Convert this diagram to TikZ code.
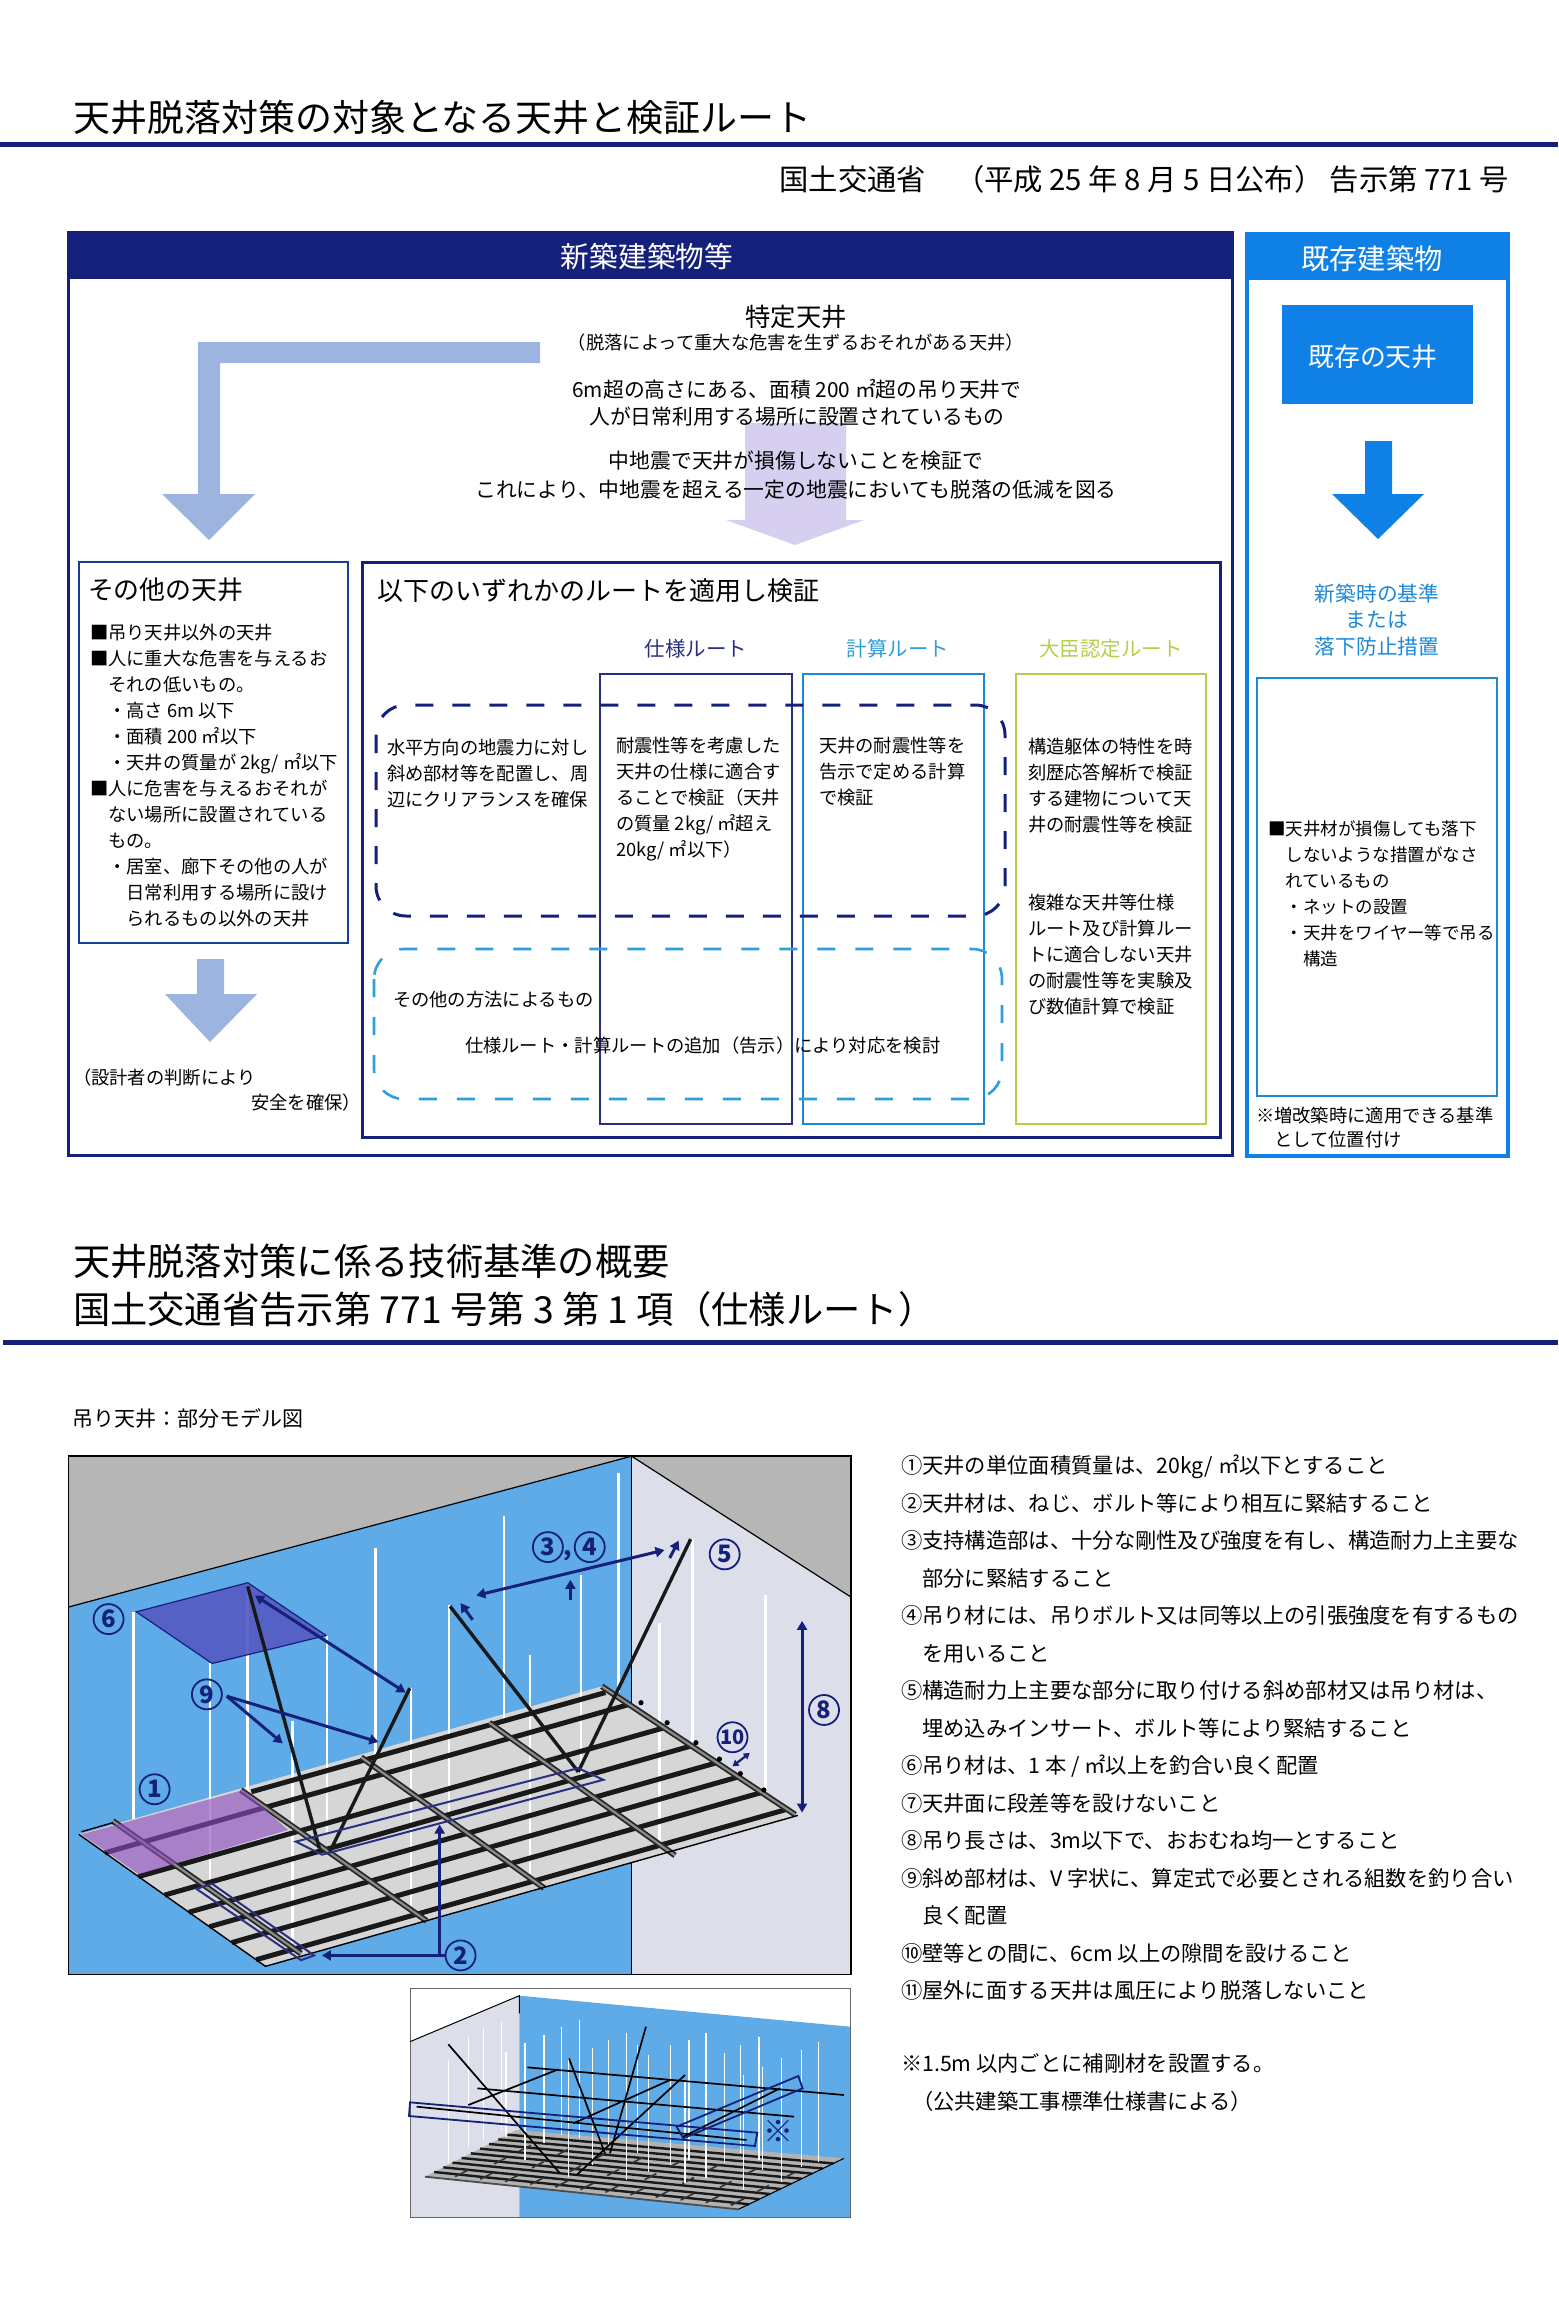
\documentclass[tikz,border=0pt]{standalone}
\usepackage{fontspec}
\setmainfont{Noto Sans CJK JP}
\usetikzlibrary{arrows.meta,calc}
\definecolor{navy}{HTML}{14207A}
\definecolor{rnavy}{HTML}{2A2F82}
\definecolor{brightblue}{HTML}{0F80E6}
\definecolor{rblue}{HTML}{1E88D8}
\definecolor{rcyan}{HTML}{2E9FD8}
\definecolor{rgreen}{HTML}{B4D04A}
\definecolor{arrowblue}{HTML}{9DB4E0}
\definecolor{arrowpurple}{HTML}{D7CFEF}
\definecolor{ceil}{HTML}{B6B6B6}
\definecolor{wallblue}{HTML}{5FABE8}
\definecolor{walllight}{HTML}{DCDEEA}
\definecolor{panel}{HTML}{D6D6D6}
\newcommand{\fs}[2]{\fontsize{#1}{#2}\selectfont}
\tikzset{
  blk/.style={inner sep=0pt,outer sep=0pt,anchor=north west,align=left},
  ctr/.style={inner sep=0pt,outer sep=0pt,anchor=center,align=center},
  rt/.style={inner sep=0pt,outer sep=0pt,anchor=east,align=right},
  lt/.style={inner sep=0pt,outer sep=0pt,anchor=west,align=left},
  body/.style={font=\fs{18.3}{26}},
  listt/.style={font=\fs{21.3}{37.5}},
  rule/.style={draw=navy,line width=5pt},
  hang/.style={draw=white,line width=2.6pt},
  hangs/.style={draw=white,line width=1.2pt},
  rbar/.style={draw=black!90,line width=5pt},
  chan/.style={draw=black!85,line width=1.8pt,double=black!45,double distance=2.2pt},
  brace/.style={draw=black!90,line width=3.4pt},
  na/.style={draw=navy,line width=3pt,-{Triangle[length=9pt,width=10pt]}},
  nab/.style={draw=navy,line width=3pt,{Triangle[length=9pt,width=10pt]}-{Triangle[length=9pt,width=10pt]}},
  cnum/.style={circle,draw=navy,line width=1.8pt,text=navy,font=\fs{24}{24}\bfseries,inner sep=0pt,minimum size=30pt},
}
\begin{document}
\begin{tikzpicture}[x=1pt,y=-1pt]
\useasboundingbox (0,0) rectangle (1558,2306);
\fill[white] (0,0) rectangle (1558,2306);

% ---------- titles
\node[lt,font=\fs{37}{37}] (t1) at (73,118) {天井脱落対策の対象となる天井と検証ルート};
\draw[rule] (0,145) -- (1558,145);
\node[rt,font=\fs{29.3}{29}] (t1b) at (1509,179) {国土交通省　（平成 25 年 8 月 5 日公布） 告示第 771 号};

% ---------- left main box
\draw[navy,line width=3pt] (68,233) rectangle (1232,1155);
\fill[navy] (67,233) rectangle (1233,279);
\node[ctr,text=white,font=\fs{28.7}{29}] (h1) at (647,257) {新築建築物等};

% arrows behind text
\fill[arrowpurple] (745,423) -- (846,423) -- (846,520) -- (864,520) -- (795,545) -- (726,520) -- (745,520) -- cycle;
\fill[arrowblue] (540,342) -- (198,342) -- (198,494) -- (162,494) -- (209,540) -- (255,494) -- (220,494) -- (220,363) -- (540,363) -- cycle;

\node[ctr,font=\fs{25.4}{26}] (tk) at (796,317) {特定天井};
\node[ctr,font=\fs{18.3}{18}] (tk2) at (796,343) {（脱落によって重大な危害を生ずるおそれがある天井）};
\node[ctr,font=\fs{20.8}{27}] (tk3) at (797,403) {6m超の高さにある、面積 200 ㎡超の吊り天井で\\人が日常利用する場所に設置されているもの};
\node[ctr,font=\fs{20.8}{29}] (tk4) at (796,475) {中地震で天井が損傷しないことを検証で\\これにより、中地震を超える一定の地震においても脱落の低減を図る};

% ---------- other ceilings box
\draw[draw=navy!70!rblue,line width=2.6pt] (79,562) rectangle (348,943);
\node[lt,font=\fs{25.9}{26}] (o0) at (88,590) {その他の天井};
\node[blk,body] (o1) at (90,624) {■吊り天井以外の天井\\■人に重大な危害を与えるお\\　それの低いもの。\\　・高さ 6m 以下\\　・面積 200 ㎡以下\\　・天井の質量が 2kg/ ㎡以下\\■人に危害を与えるおそれが\\　ない場所に設置されている\\　もの。\\　・居室、廊下その他の人が\\　　日常利用する場所に設け\\　　られるもの以外の天井};
\fill[arrowblue] (197,959) -- (224,959) -- (224,994) -- (257,994) -- (210,1042) -- (165,994) -- (197,994) -- cycle;
\node[lt,font=\fs{18.3}{18}] (o2) at (73,1078) {（設計者の判断により};
\node[rt,font=\fs{18.3}{18}] (o3) at (361,1103) {安全を確保）};

% ---------- routes box
\draw[draw=navy,line width=3pt] (362,562) rectangle (1220,1137);
\node[lt,font=\fs{26}{26}] (r0) at (377,591) {以下のいずれかのルートを適用し検証};
\node[ctr,text=rnavy,font=\fs{20.5}{21}] (r1) at (696,649) {仕様ルート};
\node[ctr,text=rcyan,font=\fs{20.5}{21}] (r2) at (898,649) {計算ルート};
\node[ctr,text=rgreen,font=\fs{20.5}{21}] (r3) at (1111,649) {大臣認定ルート};
\draw[rnavy,line width=2.8pt] (600,674) rectangle (792,1124);
\draw[rblue,line width=2.8pt] (803,674) rectangle (984,1124);
\draw[rgreen,line width=2.8pt] (1016,674) rectangle (1206,1124);
\draw[navy,line width=3pt,rounded corners=30pt,dash pattern=on 18pt off 19pt] (376,705) rectangle (1005,916);
\draw[rcyan,line width=2.6pt,rounded corners=30pt,dash pattern=on 18pt off 20pt] (374,949) rectangle (1002,1099);
\node[blk,body] (d1) at (387,739) {水平方向の地震力に対し\\斜め部材等を配置し、周\\辺にクリアランスを確保};
\node[blk,body] (d2) at (616,737) {耐震性等を考慮した\\天井の仕様に適合す\\ることで検証（天井\\の質量 2kg/ ㎡超え\\20kg/ ㎡以下）};
\node[blk,body] (d3) at (819,737) {天井の耐震性等を\\告示で定める計算\\で検証};
\node[blk,body] (d4) at (1028,738) {構造躯体の特性を時\\刻歴応答解析で検証\\する建物について天\\井の耐震性等を検証};
\node[blk,body] (d5) at (1028,894) {複雑な天井等仕様\\ルート及び計算ルー\\トに適合しない天井\\の耐震性等を実験及\\び数値計算で検証};
\node[lt,font=\fs{18.3}{18}] (d6) at (393,1000) {その他の方法によるもの};
\node[lt,font=\fs{18.3}{18}] (d7) at (465,1046) {仕様ルート・計算ルートの追加（告示）により対応を検討};

% ---------- existing buildings
\draw[brightblue,line width=3.4pt] (1247,234) rectangle (1508,1156);
\fill[brightblue] (1246,233) rectangle (1509,280);
\node[ctr,text=white,font=\fs{28.2}{29}] (h2) at (1372,259) {既存建築物};
\fill[brightblue] (1282,305) rectangle (1473,404);
\node[ctr,text=white,font=\fs{25.9}{26}] (ex) at (1373,357) {既存の天井};
\fill[brightblue] (1365,441) -- (1392,441) -- (1392,494) -- (1424,494) -- (1378,539) -- (1332,494) -- (1365,494) -- cycle;
\node[ctr,text=rblue,font=\fs{20.7}{26.5}] (ex2) at (1377,620) {新築時の基準\\または\\落下防止措置};
\draw[draw=rblue,line width=2.8pt] (1257,678) rectangle (1497,1096);
\node[blk,font=\fs{17.5}{26}] (ex3) at (1268,821) {■天井材が損傷しても落下\\　しないような措置がなさ\\　れているもの\\　・ネットの設置\\　・天井をワイヤー等で吊る\\　　構造};
\node[blk,font=\fs{18.3}{24}] (ex4) at (1256,1107) {※増改築時に適用できる基準\\　として位置付け};

% ---------- second section
\node[lt,font=\fs{37.3}{37}] (t2) at (73,1261) {天井脱落対策に係る技術基準の概要};
\node[lt,font=\fs{37.3}{37}] (t3) at (73,1309) {国土交通省告示第 771 号第 3 第 1 項（仕様ルート）};
\draw[rule] (3,1342) -- (1558,1342);
\node[lt,font=\fs{21}{21}] (t4) at (72,1418) {吊り天井：部分モデル図};

\node[blk,listt] (list) at (901,1455) {①天井の単位面積質量は、20kg/ ㎡以下とすること\\②天井材は、ねじ、ボルト等により相互に緊結すること\\③支持構造部は、十分な剛性及び強度を有し、構造耐力上主要な\\　部分に緊結すること\\④吊り材には、吊りボルト又は同等以上の引張強度を有するもの\\　を用いること\\⑤構造耐力上主要な部分に取り付ける斜め部材又は吊り材は、\\　埋め込みインサート、ボルト等により緊結すること\\⑥吊り材は、1 本 / ㎡以上を釣合い良く配置\\⑦天井面に段差等を設けないこと\\⑧吊り長さは、3m以下で、おおむね均一とすること\\⑨斜め部材は、V 字状に、算定式で必要とされる組数を釣り合い\\　良く配置\\⑩壁等との間に、6cm 以上の隙間を設けること\\⑪屋外に面する天井は風圧により脱落しないこと};
\node[blk,listt] (note) at (901,2054) {※1.5m 以内ごとに補剛材を設置する。\\\hspace*{11pt}（公共建築工事標準仕様書による）};

% ---------- main figure (coordinates of a crop)
\begin{scope}[shift={(50,1430)},x=0.523pt,y=-0.3636pt]
  \coordinate (L) at (55,1112); \coordinate (T) at (1055,705);
  \coordinate (R) at (1430,1060); \coordinate (B) at (412,1475);
  \fill[ceil] (35,72) rectangle (1532,1497);
  \fill[wallblue] (35,487) -- (1112,72) -- (1112,1497) -- (35,1497) -- cycle;
  \fill[walllight] (1112,72) -- (1532,460) -- (1532,1497) -- (1112,1497) -- cycle;
  \draw[black,line width=1.2pt] (35,487) -- (1112,72) -- (1532,460);
  \draw[black,line width=1.2pt] (1112,72) -- (1112,1497);
  \fill[panel] (L) -- (T) -- (R) -- (B) -- cycle;
  % hangers
  \foreach \x/\a/\b in {160/500/1070,306/640/1240,378/420/1010,464/800/1410,530/565/1110,622/325/890,690/710/1310,763/480/1060,868/237/800,918/618/1220,1015/400/960,1087/118/720,1165/530/1150,1228/300/870,1368/455/1000}
    \draw[hang] (\x,\a) -- (\x,\b);
  % runners
  \draw[rbar] (385,995) -- (1062,722);
  \foreach \t in {0.14,0.32,0.46,0.59,0.70,0.82,0.95}
    \draw[rbar] ($(L)!\t!(B)$) -- ($(T)!\t!(R)$);
  % cross channels
  \draw[chan] (120,1075) -- (480,1440);
  \draw[chan] (365,990) -- (720,1350);
  \draw[chan] (595,900) -- (945,1260);
  \draw[chan] (840,805) -- (1195,1170);
  \draw[chan] (1055,705) -- (1425,1058);
  \draw[draw=black,line width=1.4pt] (L) -- (B) -- (R);
  \draw[draw=black,line width=1.4pt] (60,1105) -- (120,1080);
  \foreach \x/\y in {1130/750,1180/805,1235/860,1280/905,1320/945,1365/990}
    \fill[black] (\x,\y) circle (2.6pt);
  % purple patch
  \fill[violet!70!blue!70!white,opacity=0.62] (60,1112) -- (370,990) -- (455,1100) -- (170,1222) -- cycle;
  % hanger square
  \fill[navy!65!blue!70!white,opacity=0.92] (165,500) -- (378,420) -- (528,565) -- (310,642) -- cycle;
  \draw[navy,line width=1.2pt] (165,500) -- (378,420) -- (528,565) -- (310,642) -- cycle;
  % braces
  \draw[brace] (378,430) -- (515,1150);
  \draw[brace] (688,710) -- (535,1160);
  \draw[brace] (765,485) -- (1010,940);
  \draw[brace] (1225,300) -- (1010,940);
  % navy outlines
  \draw[rnavy,line width=2pt] (470,1132) -- (1010,930) -- (1058,962) -- (520,1168) -- cycle;
  \draw[rnavy,line width=2pt] (280,1262) -- (310,1248) -- (505,1445) -- (480,1458) -- cycle;
  % labels
  \node[cnum] (n1) at (200,988) {1};
  \node[cnum] (n2) at (785,1445) {2};
  \node[cnum] (n3) at (952,322) {3};
  \node[text=navy,inner sep=0pt,font=\fs{24}{24}\bfseries] (nc) at (990,345) {,};
  \node[cnum] (n4) at (1032,322) {4};
  \node[cnum] (n5) at (1290,342) {5};
  \node[cnum] (n6) at (112,520) {6};
  \node[cnum] (n8) at (1480,770) {8};
  \node[cnum] (n9) at (300,727) {9};
  \node[cnum,font=\fs{20}{20}\bfseries] (n10) at (1305,845) {10};
  % annotation arrows
  \coordinate (c2) at (745,1445);
  \draw[nab] (520,1445) -- (c2) -- (745,1085);
  \draw[draw=navy,line width=3pt] (n2) -- (c2);
  \draw[nab] (815,455) -- (1175,330);
  \draw[na] (995,468) -- (995,412);
  \draw[na] (808,522) -- (785,476);
  \draw[na] (1185,352) -- (1202,304);
  \draw[nab] (392,455) -- (680,722);
  \draw[na] (n9) ++(38,5) coordinate (c9) -- (445,862);
  \draw[na] (c9) -- (628,858);
  \draw[nab] (1438,525) -- (1438,1052);
  \draw[draw=navy,line width=2.2pt,{Triangle[length=6pt,width=7pt]}-{Triangle[length=6pt,width=7pt]}] (1305,925) -- (1338,888);
  \draw[black,line width=1.6pt] (35,72) rectangle (1532,1497);
\end{scope}

% ---------- second figure (coordinates of a crop)
\begin{scope}[shift={(400,1980)},x=0.3333pt,y=-0.3333pt]
  \coordinate (l2) at (75,590); \coordinate (t2c) at (350,450);
  \coordinate (r2c) at (1332,535); \coordinate (b2) at (1015,688);
  \fill[walllight] (30,185) -- (358,47) -- (358,712) -- (30,712) -- cycle;
  \fill[wallblue] (358,47) -- (1350,140) -- (1350,712) -- (358,712) -- cycle;
  \draw[black!60,line width=0.8pt] (30,25) rectangle (1350,712);
  \draw[black,line width=1pt] (30,185) -- (358,47) -- (358,100);
  % ceiling panel
  \fill[black!30] (l2) -- (t2c) -- (r2c) -- (b2) -- cycle;
  \foreach \t in {0.10,0.20,0.30,0.40,0.50,0.60,0.70,0.80,0.90}
    \draw[black!90,line width=2.4pt] ($(b2)!\t!(r2c)$) -- ($(l2)!\t!(t2c)$);
  \foreach \s in {0.08,0.16,0.24,0.32,0.40,0.48,0.56,0.64,0.72,0.80,0.88,0.96} {
    \coordinate (p1) at ($(l2)!\s!(b2)$);
    \draw[black!80,line width=1.6pt] ($(p1)+(15,-8)$) -- ($(p1)+(55,-28)$);
  }
  \foreach \s in {0.12,0.24,0.36,0.48,0.60,0.72,0.84,0.96} {
    \coordinate (p2) at ($(l2)!\s!(b2)$);
    \draw[black!80,line width=1.6pt] ($(p2)+(95,-50)$) -- ($(p2)+(130,-68)$);
    \draw[black!80,line width=1.6pt] ($(p2)+(170,-88)$) -- ($(p2)+(205,-106)$);
  }
  \draw[black!70,line width=1.8pt] (l2) -- (b2);
  \draw[black,line width=1.1pt] (b2) -- (r2c);
  % hangers
  \foreach \x/\a/\b in {145/240/550,205/170/500,250/145/480,305/125/450,318/215/470,375/190/540,432/165/490,485/140/465,505/235/590,538/120/475,578/205/555,625/180/500,680/160/600,712/195/520,745/225/575,812/195/555,855/305/610,867/180/540,918/160/595,973/220/550,1022/195/520,1030/285/630,1077/170/540,1087/260/570,1145/235/605,1204/210/560,1255/185/545}
    \draw[hangs] (\x,\a) -- (\x,\b);
  % upper channels and braces
  \draw[black,line width=1.7pt] (382,262) -- (1332,345);
  \draw[black,line width=1.7pt] (232,325) -- (1182,410);
  \draw[black,line width=1.7pt] (50,380) -- (1040,480);
  \draw[black,line width=1.7pt] (205,375) -- (475,268);
  \draw[black,line width=1.7pt] (520,430) -- (810,300);
  \draw[black,line width=1.7pt] (850,470) -- (1140,325);
  \draw[black,line width=1.7pt] (145,193) -- (480,580);
  \draw[black,line width=1.7pt] (507,235) -- (615,520);
  \draw[black,line width=1.7pt] (738,140) -- (630,520);
  \draw[black,line width=1.7pt] (855,285) -- (530,585);
  % navy outlines
  \draw[navy,line width=1.8pt] (30,367) -- (1072,458) -- (1065,498) -- (27,408) -- cycle;
  \draw[navy,line width=1.8pt] (830,440) -- (1195,288) -- (1208,325) -- (850,475) -- cycle;
  \node[inner sep=0pt,text=navy,font=\fs{30}{30}] (star) at (1137,453) {※};
\end{scope}
\end{tikzpicture}
\end{document}
